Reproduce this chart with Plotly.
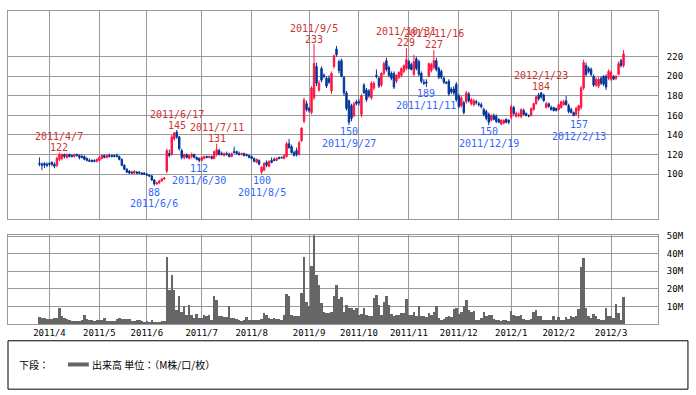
import pandas as pd
import plotly.graph_objects as go

# ---------------- data ----------------
holidays = ["2011-04-29", "2011-05-03", "2011-05-04", "2011-05-05", "2011-07-18",
            "2011-09-19", "2011-09-23", "2011-10-10", "2011-11-03", "2011-11-23",
            "2011-12-23", "2012-01-02", "2012-01-03", "2012-01-09"]
trading_days = pd.bdate_range("2011-03-28", "2012-03-08", freq="C", holidays=holidays)
dates = [d.strftime("%Y-%m-%d") for d in trading_days]

open_prices = [
    111, 110, 111, 110,                                                   # Mar
    111, 112, 110, 109, 115, 116, 120, 117, 120, 119, 118, 120, 119, 118, 118, 116, 114, 114, 114, 113,  # Apr
    114, 116, 119, 117, 119, 119, 119, 119, 118, 115, 109, 105, 103, 102, 101, 102, 102, 101, 101,  # May
    100, 99, 98, 94, 90, 91, 93, 95, 103, 121, 120, 136, 143, 138, 124, 117, 120, 116, 118, 120, 117, 116,  # Jun
    114, 116, 118, 117, 118, 116, 120, 124, 121, 119, 121, 120, 118, 123, 123, 121, 120, 121, 120, 119,  # Jul
    118, 116, 112, 114, 102, 104, 112, 108, 114, 115, 114, 117, 117, 116, 118, 131, 128, 122, 124, 120, 134, 154, 172,  # Aug
    167, 163, 178, 210, 186, 208, 201, 198, 198, 185, 210, 228, 215, 216, 199, 183, 175, 170, 160, 174,  # Sep
    174, 161, 191, 186, 185, 178, 188, 201, 198, 191, 203, 216, 209, 203, 203, 195, 199, 201, 205, 208,  # Oct
    215, 212, 202, 218, 215, 203, 194, 194, 200, 206, 209, 216, 208, 205, 198, 194, 195, 187, 187, 192,  # Nov
    180, 170, 173, 174, 182, 172, 171, 174, 172, 171, 166, 164, 161, 155, 160, 159, 156, 151, 152, 156, 155,  # Dec
    158, 168, 159, 160, 159, 165, 162, 160, 160, 166, 172, 181, 183, 181, 168, 172, 168, 168, 167,  # Jan
    166, 168, 171, 175, 170, 166, 163, 161, 165, 168, 188, 211, 208, 207, 200, 191, 190, 198, 200, 200, 198,  # Feb
    197, 200, 198, 202, 216, 211,                                          # Mar
]
high_prices = [
    117, 112, 112, 112,
    112, 113, 112, 118, 122, 121, 121, 121, 121, 120, 121, 121, 120, 120, 119, 117, 116, 115, 115, 116,
    118, 120, 120, 120, 121, 120, 120, 121, 119, 116, 110, 106, 104, 103, 104, 103, 103, 102, 102,
    101, 100, 99, 95, 92, 94, 96, 97, 126, 125, 140, 143, 145, 139, 126, 121, 121, 120, 122, 121, 118, 117,
    118, 119, 119, 119, 119, 124, 131, 126, 123, 122, 123, 122, 122, 128, 124, 123, 122, 122, 121, 120,
    119, 117, 116, 115, 108, 112, 114, 114, 117, 117, 117, 118, 118, 120, 133, 136, 130, 124, 127, 134, 148, 178, 175,
    169, 190, 233, 214, 196, 210, 203, 200, 201, 205, 222, 231, 217, 218, 200, 185, 176, 172, 174, 176,
    177, 182, 193, 188, 187, 195, 195, 207, 200, 204, 215, 219, 211, 205, 205, 202, 205, 209, 212, 229,
    217, 214, 222, 220, 217, 205, 197, 197, 214, 214, 227, 219, 210, 207, 200, 195, 197, 189, 190, 194,
    182, 180, 175, 185, 184, 178, 177, 176, 174, 173, 168, 166, 163, 161, 162, 161, 157, 156, 156, 157, 156,
    171, 170, 164, 163, 167, 167, 163, 161, 168, 173, 180, 183, 184, 182, 174, 173, 170, 169, 168,
    172, 175, 176, 180, 172, 168, 164, 169, 171, 190, 217, 214, 210, 209, 202, 199, 199, 200, 201, 202, 207,
    206, 201, 201, 215, 218, 227,
]
low_prices = [
    108, 104, 106, 107,
    108, 108, 106, 107, 113, 114, 116, 116, 117, 117, 117, 118, 115, 116, 114, 113, 113, 112, 112, 112,
    113, 115, 116, 116, 117, 117, 117, 117, 114, 108, 104, 101, 100, 100, 100, 100, 100, 99, 99,
    98, 97, 93, 88, 89, 90, 92, 94, 101, 117, 119, 134, 136, 124, 115, 115, 116, 115, 116, 116, 114, 112,
    113, 115, 116, 116, 115, 115, 118, 119, 119, 118, 119, 117, 117, 121, 120, 119, 119, 118, 118, 116,
    115, 112, 111, 109, 100, 103, 107, 107, 111, 113, 113, 115, 116, 115, 117, 126, 121, 118, 118, 119, 133, 152, 164,
    163, 161, 176, 190, 184, 194, 198, 188, 192, 182, 208, 220, 203, 199, 180, 165, 150, 154, 158, 170,
    170, 158, 182, 174, 178, 176, 186, 198, 188, 189, 201, 205, 199, 196, 187, 193, 197, 199, 203, 206,
    207, 206, 200, 206, 200, 193, 191, 189, 199, 204, 207, 205, 197, 197, 192, 192, 180, 182, 181, 174,
    167, 168, 161, 172, 173, 170, 169, 171, 169, 167, 159, 155, 150, 154, 155, 152, 152, 150, 151, 152, 151,
    156, 160, 158, 158, 157, 160, 159, 158, 159, 165, 171, 175, 177, 174, 167, 168, 165, 164, 164,
    165, 167, 170, 170, 162, 162, 159, 160, 157, 166, 186, 200, 203, 200, 189, 189, 188, 191, 190, 186, 196,
    195, 196, 196, 201, 209, 209,
]
close_prices = [
    110, 109, 109, 109,
    110, 110, 108, 116, 120, 120, 118, 120, 118, 118, 120, 119, 117, 117, 115, 114, 113, 113, 113, 115,
    117, 119, 117, 119, 118, 118, 118, 118, 115, 109, 105, 102, 101, 101, 103, 101, 101, 100, 100,
    99, 98, 94, 90, 91, 93, 95, 96, 124, 119, 138, 142, 138, 126, 117, 120, 117, 119, 120, 117, 115, 114,
    117, 118, 117, 118, 116, 123, 125, 120, 120, 121, 120, 118, 121, 122, 121, 120, 121, 119, 119, 117,
    116, 113, 115, 110, 107, 111, 109, 113, 112, 114, 116, 116, 116.5, 119, 131, 127, 122, 119, 120, 132, 147, 176, 166,
    165, 188, 213, 193, 193, 196, 200, 190, 194, 203, 221, 222, 206, 200, 183, 167, 153, 157, 172, 172,
    173, 180, 183, 176, 180, 193, 193, 200, 190, 203, 213, 207, 201, 198, 189, 201, 204, 208, 211, 217,
    208, 207, 215, 208, 202, 195, 193, 193, 213, 212, 216, 207, 199, 199, 194, 193, 182, 184, 183, 176,
    169, 178, 163, 183, 175, 176, 175, 173, 171, 169, 161, 157, 153, 160, 156, 154, 153, 155, 155, 153, 153,
    169, 162, 162, 161, 166, 161, 160, 159.5, 167, 172, 179, 177, 179, 175, 172, 169, 166, 165, 165,
    171, 174, 174, 171, 164, 163, 160, 167, 170, 188, 214, 202, 205, 202, 191, 197, 197, 193, 192, 189, 205,
    204, 197, 200, 213, 211, 223,
]
volume_m = [
    4.0, 3.5, 3.2, 2.8,
    3.0, 2.5, 3.2, 3.5, 9.3, 4.3, 3.5, 2.5, 2.0, 1.6, 1.5, 1.6, 1.8, 2.4, 4.8, 2.8, 2.0, 2.2, 1.8, 2.0,
    2.3, 2.0, 3.4, 1.5, 1.6, 1.4, 1.8, 3.0, 3.2, 2.8, 3.0, 2.9, 2.6, 1.5, 1.6, 2.4, 2.2, 1.4, 1.2,
    1.5, 1.3, 2.4, 1.2, 1.3, 1.2, 1.6, 1.5, 38.3, 19.0, 28.0, 19.5, 8.0, 16.0, 7.0, 10.0, 5.0, 11.0, 5.0, 3.4, 5.6, 3.4,
    3.5, 5.2, 4.3, 5.0, 2.4, 16.0, 13.6, 4.3, 4.3, 3.8, 4.0, 10.0, 3.4, 3.4, 3.0, 2.0, 1.8, 2.0, 4.0, 2.2,
    2.2, 2.0, 2.4, 2.2, 3.0, 6.4, 4.9, 3.4, 2.8, 3.2, 2.5, 2.5, 2.0, 5.2, 17.0, 16.0, 5.2, 4.3, 4.6, 4.3, 17.4, 38.3, 12.3,
    10.0, 32.7, 51.0, 28.0, 22.0, 11.8, 7.0, 6.2, 6.2, 6.5, 16.0, 22.4, 14.2, 15.5, 7.0, 10.5, 9.0, 9.0, 8.0, 9.0,
    5.2, 5.5, 9.0, 5.2, 4.5, 4.3, 15.0, 16.4, 10.8, 5.0, 12.7, 16.0, 10.8, 5.6, 4.3, 5.0, 5.2, 6.2, 6.2, 14.2,
    5.0, 5.2, 7.0, 4.3, 10.0, 4.5, 4.3, 3.7, 6.2, 4.8, 6.5, 10.3, 3.4, 2.4, 2.8, 3.7, 4.3, 4.0, 8.6, 9.0,
    5.6, 7.0, 10.0, 13.6, 8.0, 6.7, 7.5, 2.4, 2.4, 3.4, 6.7, 4.3, 5.2, 5.0, 3.0, 2.2, 2.0, 1.8, 2.0, 2.2, 1.6,
    7.5, 4.9, 4.6, 4.3, 4.9, 3.0, 2.4, 2.4, 2.6, 6.7, 8.0, 4.3, 4.3, 2.4, 2.4, 2.4, 2.4, 4.3, 2.2,
    3.7, 2.4, 2.4, 3.7, 2.8, 4.3, 3.7, 4.3, 8.4, 32.3, 37.4, 9.3, 4.3, 3.5, 5.6, 4.3, 3.0, 2.4, 2.4, 9.3, 4.5,
    4.3, 3.4, 11.2, 6.2, 2.4, 15.5,
]

month_keys = ["2011-04", "2011-05", "2011-06", "2011-07", "2011-08", "2011-09",
              "2011-10", "2011-11", "2011-12", "2012-01", "2012-02", "2012-03"]
month_labels = ["2011/4", "2011/5", "2011/6", "2011/7", "2011/8", "2011/9",
                "2011/10", "2011/11", "2011/12", "2012/1", "2012/2", "2012/3"]

price_ticks = [100, 120, 140, 160, 180, 200, 220]
volume_ticks = [10, 20, 30, 40, 50]
volume_tick_labels = ["10M", "20M", "30M", "40M", "50M"]

peak_dates = ["2011-04-07", "2011-06-17", "2011-07-11", "2011-09-05", "2011-10-31", "2011-11-16", "2012-01-23"]
peak_values = [122, 145, 131, 233, 229, 227, 184]
trough_dates = ["2011-06-06", "2011-06-30", "2011-08-05", "2011-09-27", "2011-11-11", "2011-12-19", "2012-02-13"]
trough_values = [88, 112, 100, 150, 189, 150, 157]

# ---------------- styling ----------------
RED = "#FF1440"
BLUE = "#003399"
LABEL_RED = "#CC3333"
LABEL_BLUE = "#3366FF"
GRID = "#999999"
MONO = "DejaVu Sans Mono"

month_ticks = [next(d for d in dates if d.startswith(k)) for k in month_keys]


def slash_date(s):
    y, m, d = s.split("-")
    return f"{int(y)}/{int(m)}/{int(d)}"


fig = go.Figure()
fig.add_trace(go.Candlestick(
    x=dates, open=open_prices, high=high_prices, low=low_prices, close=close_prices,
    increasing=dict(line=dict(color=RED, width=1), fillcolor=RED),
    decreasing=dict(line=dict(color=BLUE, width=1), fillcolor=BLUE),
    whiskerwidth=0, xaxis="x", yaxis="y", hoverinfo="skip", showlegend=False,
))
fig.add_trace(go.Bar(
    x=dates, y=volume_m, marker=dict(color="#666666", line=dict(width=0)),
    xaxis="x2", yaxis="y2", hoverinfo="skip", showlegend=False,
))

annotations = []
for d, v in zip(peak_dates, peak_values):
    annotations.append(dict(x=d, y=v, xref="x", yref="y", text=str(v), showarrow=False,
                            yshift=5, font=dict(family=MONO, size=10, color=LABEL_RED)))
    annotations.append(dict(x=d, y=v, xref="x", yref="y", text=slash_date(d), showarrow=False,
                            yshift=16, font=dict(family=MONO, size=10, color=LABEL_RED)))
for d, v in zip(trough_dates, trough_values):
    annotations.append(dict(x=d, y=v, xref="x", yref="y", text=str(v), showarrow=False,
                            yshift=-6.5, font=dict(family=MONO, size=10, color=LABEL_BLUE)))
    annotations.append(dict(x=d, y=v, xref="x", yref="y", text=slash_date(d), showarrow=False,
                            yshift=-18, font=dict(family=MONO, size=10, color=LABEL_BLUE)))

# legend box text
annotations.append(dict(x=0.0138, y=-0.1293, xref="paper", yref="paper", text="下段：",
                        showarrow=False, xanchor="left", yanchor="middle",
                        font=dict(family="Noto Sans CJK JP", size=10, color="black")))
annotations.append(dict(x=0.126, y=-0.1293, xref="paper", yref="paper",
                        text="出来高 単位：（M株/口/枚）",
                        showarrow=False, xanchor="left", yanchor="middle",
                        font=dict(family="Noto Sans CJK JP", size=10, color="black")))

shapes = [
    dict(type="rect", xref="paper", yref="paper", x0=0, x1=1.0461, y0=-0.2082, y1=-0.0536,
         line=dict(color="black", width=1), fillcolor="rgba(0,0,0,0)"),
    dict(type="line", xref="paper", yref="paper", x0=0.0922, x1=0.1244, y0=-0.1293, y1=-0.1293,
         line=dict(color="#666666", width=4)),
]

axis_common = dict(showgrid=True, gridcolor=GRID, gridwidth=1, showline=True, mirror=True,
                   linecolor=GRID, linewidth=1, zeroline=False, ticks="")

fig.update_layout(
    width=696, height=395,
    margin=dict(l=7, r=38, t=7, b=71),
    paper_bgcolor="white", plot_bgcolor="white",
    showlegend=False, bargap=0, boxgap=0.2,
    font=dict(family=MONO, size=9, color="black"),
    xaxis=dict(domain=[0, 1], anchor="y", type="category", range=[-12.6, 247.8],
               tickmode="array", tickvals=month_ticks, showticklabels=False,
               rangeslider=dict(visible=False), **axis_common),
    xaxis2=dict(domain=[0, 1], anchor="y2", type="category", matches="x",
                tickmode="array", tickvals=month_ticks, ticktext=month_labels,
                tickfont=dict(family=MONO, size=9, color="black"), **axis_common),
    yaxis=dict(domain=[0.3344, 1], anchor="x", range=[53.7, 266.8], side="right",
               tickmode="array", tickvals=price_ticks, ticklabelstandoff=6,
               tickfont=dict(family=MONO, size=9, color="black"), **axis_common),
    yaxis2=dict(domain=[0, 0.2839], anchor="x2", range=[0, 50.6], side="right",
                tickmode="array", tickvals=volume_ticks, ticktext=volume_tick_labels,
                ticklabelstandoff=6,
                tickfont=dict(family=MONO, size=9, color="black"), **axis_common),
    annotations=annotations,
    shapes=shapes,
)

fig.write_html("out.html", config={"displayModeBar": False},
               post_script="document.body.style.margin='0';document.body.style.overflow='hidden';")
